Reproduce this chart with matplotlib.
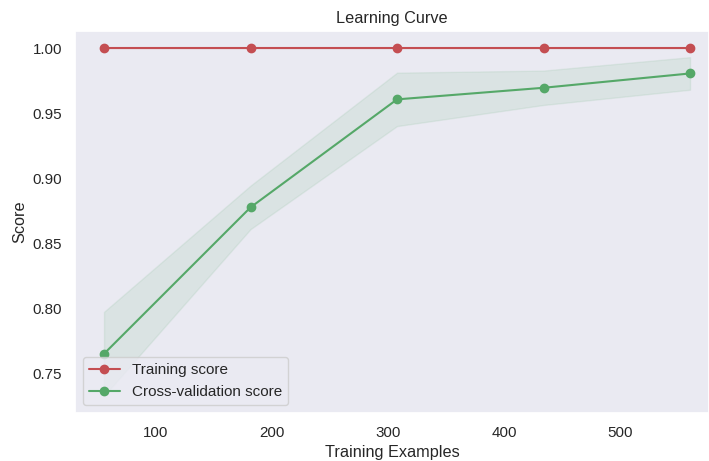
import numpy as np
import matplotlib
matplotlib.use("Agg")
import matplotlib.pyplot as plt
import seaborn as sns

sns.set()
plt.rcParams['font.family'] = ['Liberation Sans', 'DejaVu Sans']

train_sizes = [56, 182, 308, 434, 560]
train_mean = [1.0, 1.0, 1.0, 1.0, 1.0]
train_std = [0.0, 0.0, 0.0, 0.0, 0.0]
test_mean = [0.7655, 0.8779, 0.9608, 0.9697, 0.9807]
test_std = [0.0322, 0.0167, 0.0205, 0.0132, 0.0125]

tm = np.array(train_mean); ts = np.array(train_std)
vm = np.array(test_mean); vs = np.array(test_std)

fig = plt.figure(figsize=(7.09, 4.61), dpi=100)
ax = fig.add_axes([0.1062, 0.1048, 0.8938, 0.828])
ax.set_title("Learning Curve", fontsize=11.7)
ax.set_xlabel("Training Examples", fontsize=11.7)
ax.set_ylabel("Score", fontsize=11.7)
ax.tick_params(labelsize=10.9)
ax.grid(False)
ax.fill_between(train_sizes, tm - ts, tm + ts, alpha=0.1, color="r")
ax.fill_between(train_sizes, vm - vs, vm + vs, alpha=0.1, color="g")
ax.plot(train_sizes, tm, 'o-', color="r", label="Training score")
ax.plot(train_sizes, vm, 'o-', color="g", label="Cross-validation score")
ax.set_xlim(31.3, 576.3)
ax.set_ylim(0.7203, 1.0133)
ax.legend(loc="lower left", fontsize=11)
fig.savefig("out.png", dpi=100)
